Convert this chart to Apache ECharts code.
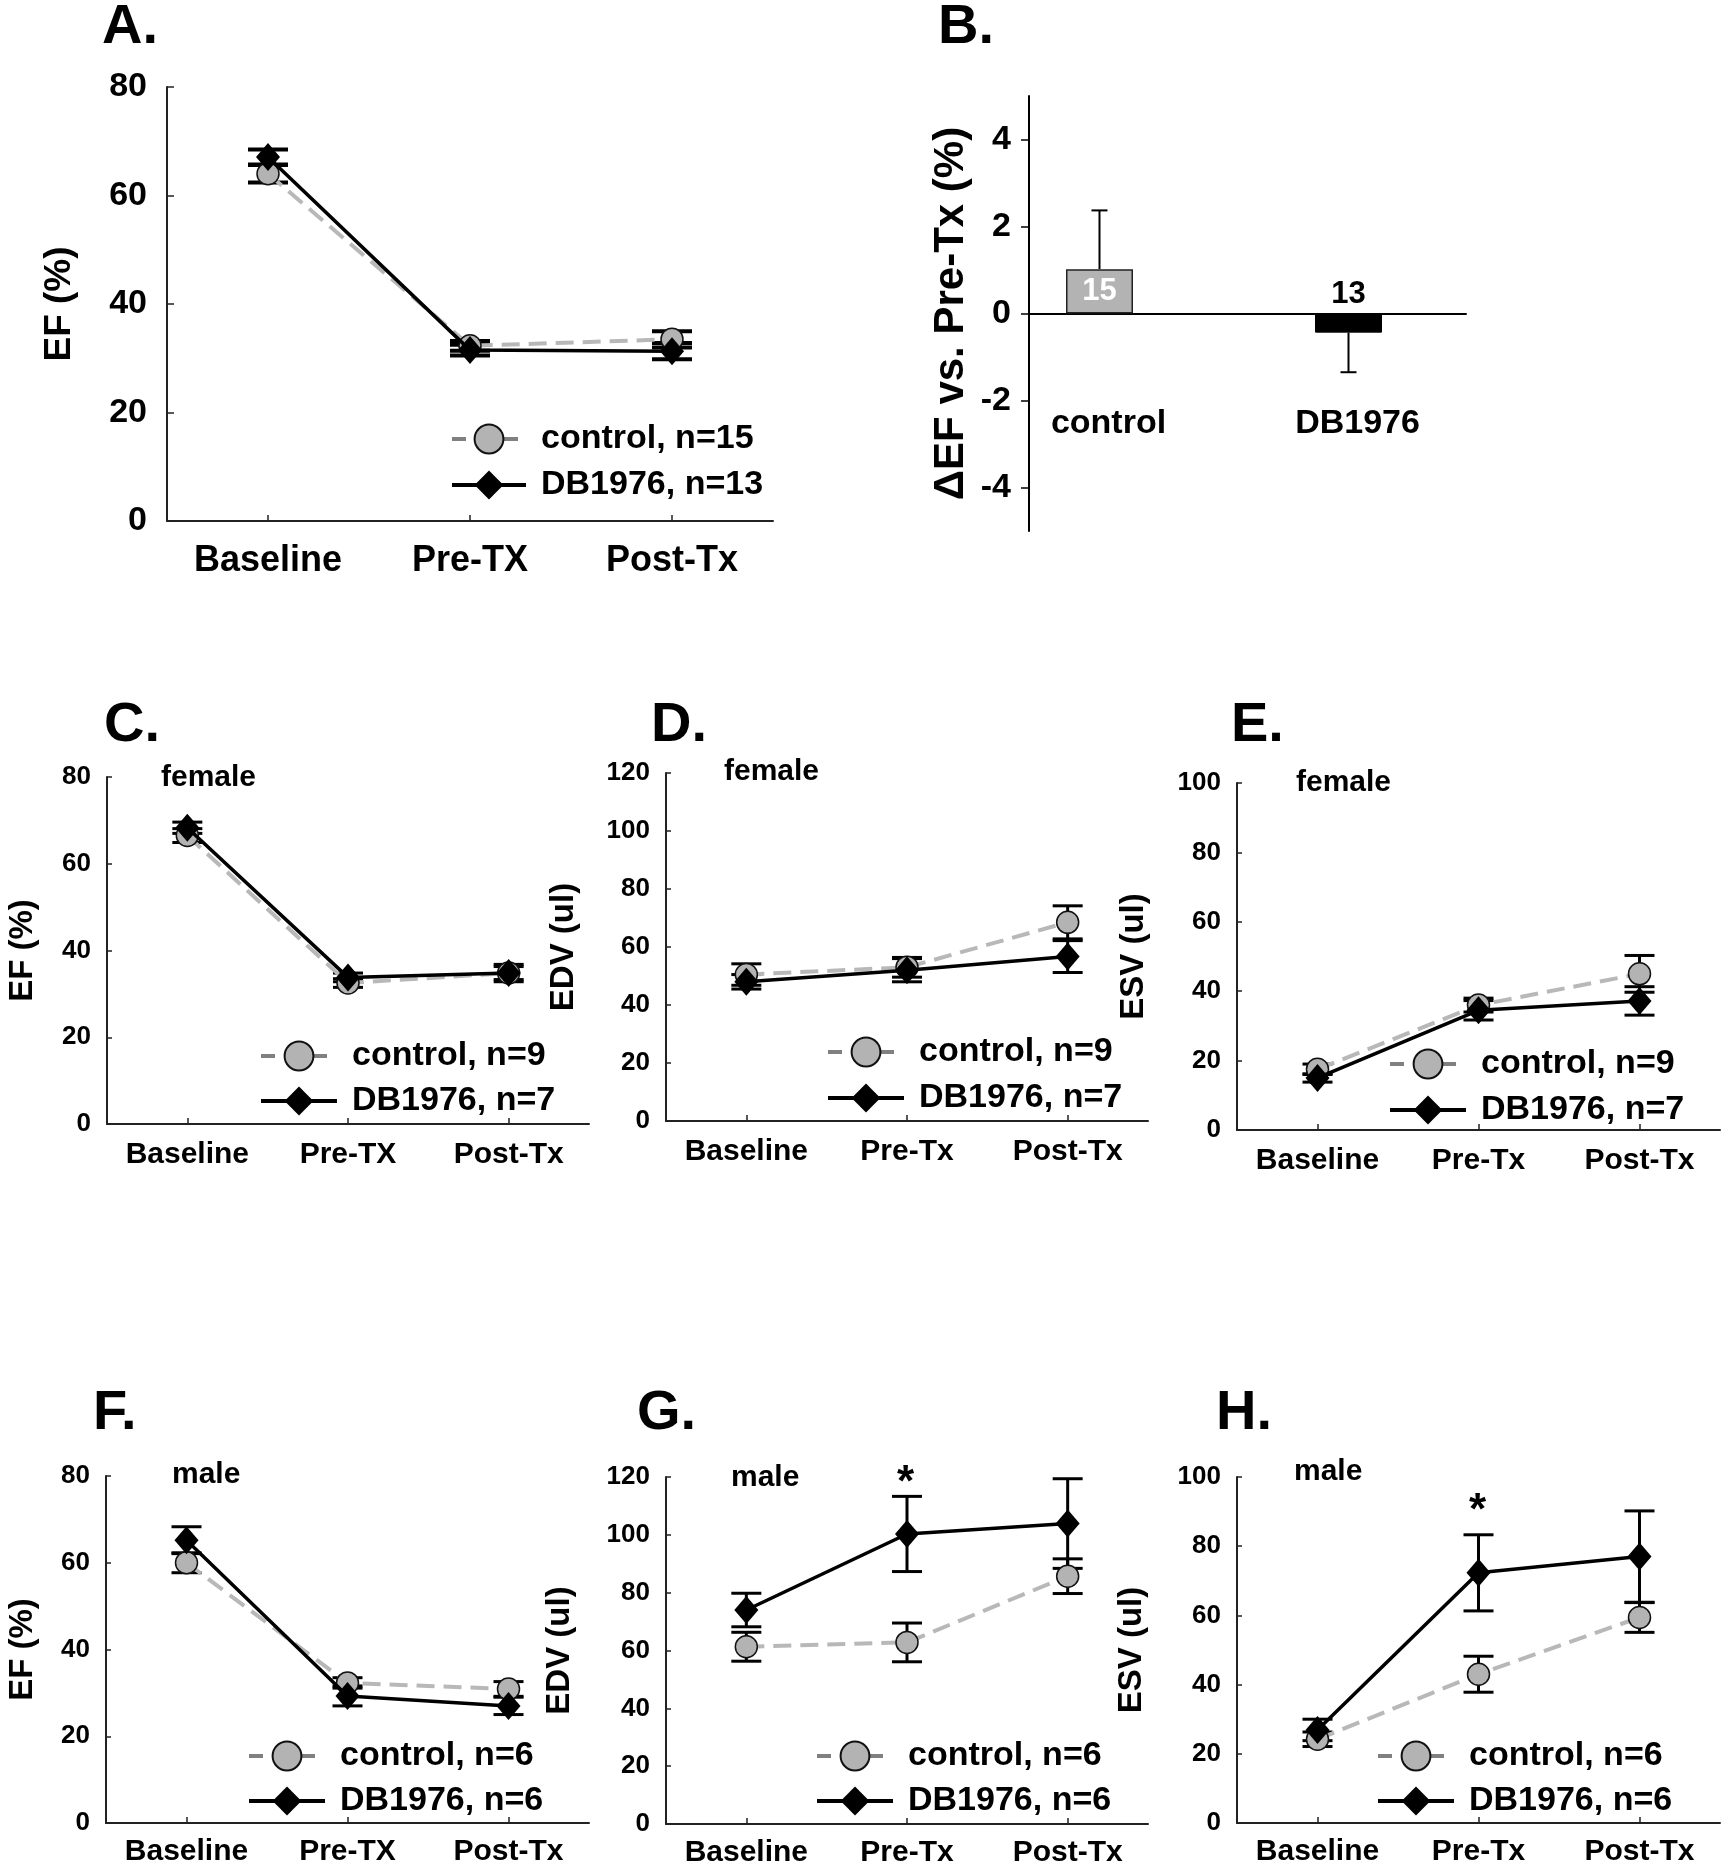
<!DOCTYPE html>
<html><head><meta charset="utf-8">
<script src="https://cdn.jsdelivr.net/npm/echarts@6/dist/echarts.min.js"></script>
<style>html,body{margin:0;padding:0;background:#fff}#c{width:1723px;height:1873px}</style>
</head><body><div id="c"></div>
<script>
const FONT = '"Liberation Sans", Arial, Helvetica, sans-serif';

// ---------- categories ----------
const timepointsEF = ['Baseline', 'Pre-TX', 'Post-Tx'];
const timepointsVol = ['Baseline', 'Pre-Tx', 'Post-Tx'];
const groupsB = ['control', 'DB1976'];

// ---------- A: EF all ----------
const efAllCtrl = [64.0, 32.3, 33.5];
const efAllCtrlErr = [1.6, 0.9, 1.5];
const efAllDB = [67.1, 31.5, 31.3];
const efAllDBErr = [1.4, 1.0, 1.5];

// ---------- B: delta EF ----------
const deltaEF = [1.02, -0.44];
const deltaEFErr = [1.35, 0.91];
const deltaN = [15, 13];
const deltaTicks = [-4, -2, 0, 2, 4];

// ---------- C: EF female ----------
const efFemCtrl = [66.5, 32.5, 34.8];
const efFemCtrlErr = [1.6, 1.0, 2.0];
const efFemDB = [68.3, 33.8, 34.8];
const efFemDBErr = [1.3, 1.0, 1.5];

// ---------- D: EDV female ----------
const edvFemCtrl = [50.5, 53.0, 68.5];
const edvFemCtrlErr = [3.7, 3.4, 5.7];
const edvFemDB = [48.0, 52.0, 56.7];
const edvFemDBErr = [2.5, 4.0, 5.5];

// ---------- E: ESV female ----------
const esvFemCtrl = [17.5, 36.0, 45.0];
const esvFemCtrlErr = [1.5, 2.0, 5.3];
const esvFemDB = [15.0, 34.5, 37.2];
const esvFemDBErr = [1.2, 2.8, 4.1];

// ---------- F: EF male ----------
const efMaleCtrl = [60.0, 32.3, 30.9];
const efMaleCtrlErr = [2.3, 1.2, 1.7];
const efMaleDB = [65.2, 29.3, 27.0];
const efMaleDBErr = [3.1, 2.3, 2.0];

// ---------- G: EDV male ----------
const edvMaleCtrl = [61.3, 62.8, 85.7];
const edvMaleCtrlErr = [5.0, 6.7, 6.0];
const edvMaleDB = [74.0, 100.3, 103.9];
const edvMaleDBErr = [5.8, 13.0, 15.5];

// ---------- H: ESV male ----------
const esvMaleCtrl = [24.2, 43.0, 59.4];
const esvMaleCtrlErr = [2.1, 5.2, 4.3];
const esvMaleDB = [26.9, 72.3, 77.0];
const esvMaleDBErr = [3.1, 11.0, 13.2];

// ---------- legend names ----------
const namesAll = ['control, n=15', 'DB1976, n=13'];
const namesFem = ['control, n=9', 'DB1976, n=7'];
const namesMale = ['control, n=6', 'DB1976, n=6'];

// ---------- layout / style config ----------
const panels = [
  {cats: timepointsEF, ctrl: efAllCtrl, ctrlErr: efAllCtrlErr, db: efAllDB, dbErr: efAllDBErr, names: namesAll,
   grid: {left: 167, top: 87, width: 606, height: 434}, yMax: 80, yName: 'EF (%)', nameFont: 37, nameGap: 89,
   tickFont: 34, tickMargin: 20, tickLen: 7, catFont: 36, catMargin: 22,
   legend: {left: 450, top: 422, itemWidth: 74, gap: 12, font: 34}, capW: 40, errLW: 4},
  {cats: timepointsEF, ctrl: efFemCtrl, ctrlErr: efFemCtrlErr, db: efFemDB, dbErr: efFemDBErr, names: namesFem,
   grid: {left: 107, top: 777, width: 482, height: 347}, yMax: 80, yName: 'EF (%)', nameFont: 33, nameGap: 68,
   tickFont: 26, tickMargin: 16, tickLen: 5, catFont: 30, catMargin: 16,
   legend: {left: 259, top: 1039, itemWidth: 76, gap: 11, font: 34}, capW: 30, errLW: 3},
  {cats: timepointsVol, ctrl: edvFemCtrl, ctrlErr: edvFemCtrlErr, db: edvFemDB, dbErr: edvFemDBErr, names: namesFem,
   grid: {left: 666, top: 773, width: 482, height: 348}, yMax: 120, yName: 'EDV (ul)', nameFont: 33, nameGap: 86,
   tickFont: 26, tickMargin: 16, tickLen: 5, catFont: 30, catMargin: 16,
   legend: {left: 826, top: 1035, itemWidth: 76, gap: 12, font: 34}, capW: 30, errLW: 3},
  {cats: timepointsVol, ctrl: esvFemCtrl, ctrlErr: esvFemCtrlErr, db: esvFemDB, dbErr: esvFemDBErr, names: namesFem,
   grid: {left: 1237, top: 783, width: 483, height: 347}, yMax: 100, yName: 'ESV (ul)', nameFont: 33, nameGap: 87,
   tickFont: 26, tickMargin: 16, tickLen: 5, catFont: 30, catMargin: 16,
   legend: {left: 1388, top: 1047, itemWidth: 76, gap: 12, font: 34}, capW: 30, errLW: 3},
  {cats: timepointsEF, ctrl: efMaleCtrl, ctrlErr: efMaleCtrlErr, db: efMaleDB, dbErr: efMaleDBErr, names: namesMale,
   grid: {left: 106, top: 1476, width: 483, height: 347}, yMax: 80, yName: 'EF (%)', nameFont: 33, nameGap: 67,
   tickFont: 26, tickMargin: 16, tickLen: 5, catFont: 30, catMargin: 14,
   legend: {left: 247, top: 1739, itemWidth: 76, gap: 11, font: 34}, capW: 30, errLW: 3},
  {cats: timepointsVol, ctrl: edvMaleCtrl, ctrlErr: edvMaleCtrlErr, db: edvMaleDB, dbErr: edvMaleDBErr, names: namesMale,
   grid: {left: 666, top: 1477, width: 482, height: 347}, yMax: 120, yName: 'EDV (ul)', nameFont: 33, nameGap: 90,
   tickFont: 26, tickMargin: 16, tickLen: 5, catFont: 30, catMargin: 14,
   legend: {left: 815, top: 1739, itemWidth: 76, gap: 11, font: 34}, capW: 30, errLW: 3},
  {cats: timepointsVol, ctrl: esvMaleCtrl, ctrlErr: esvMaleCtrlErr, db: esvMaleDB, dbErr: esvMaleDBErr, names: namesMale,
   grid: {left: 1237, top: 1477, width: 483, height: 346}, yMax: 100, yName: 'ESV (ul)', nameFont: 33, nameGap: 89,
   tickFont: 26, tickMargin: 16, tickLen: 5, catFont: 30, catMargin: 14,
   legend: {left: 1376, top: 1739, itemWidth: 76, gap: 11, font: 34}, capW: 30, errLW: 3}
];

const AXIS_COLOR = '#222';
const CTRL_FILL = '#b3b3b3';
const CTRL_LINE = '#b8b8b8';

function errRender(capW, lw, oneSided) {
  return function (params, api) {
    const i = api.value(0), v = api.value(1), e = api.value(2);
    let a, b;
    if (oneSided) { a = v; b = v + (v >= 0 ? e : -e); } else { a = v - e; b = v + e; }
    const p1 = api.coord([i, a]), p2 = api.coord([i, b]);
    const st = {stroke: '#000', lineWidth: lw};
    const children = [
      {type: 'line', shape: {x1: p1[0], y1: p1[1], x2: p2[0], y2: p2[1]}, style: st},
      {type: 'line', shape: {x1: p2[0] - capW / 2, y1: p2[1], x2: p2[0] + capW / 2, y2: p2[1]}, style: st}
    ];
    if (!oneSided) children.push({type: 'line', shape: {x1: p1[0] - capW / 2, y1: p1[1], x2: p1[0] + capW / 2, y2: p1[1]}, style: st});
    return {type: 'group', children};
  };
}

const grids = [], xAxes = [], yAxes = [], series = [], legends = [];

function addLinePanel(p) {
  const gi = grids.length;
  grids.push(Object.assign({}, p.grid));
  xAxes.push({
    type: 'category', gridIndex: gi, data: p.cats, boundaryGap: true,
    axisLine: {lineStyle: {color: AXIS_COLOR, width: 2}},
    axisTick: {show: true, inside: true, alignWithLabel: true, length: 6, lineStyle: {color: AXIS_COLOR, width: 1.5}},
    axisLabel: {fontFamily: FONT, fontWeight: 'bold', fontSize: p.catFont, color: '#000', margin: p.catMargin},
    splitLine: {show: false}
  });
  yAxes.push({
    type: 'value', gridIndex: gi, min: 0, max: p.yMax, interval: 20,
    name: p.yName, nameLocation: 'middle', nameGap: p.nameGap,
    nameTextStyle: {fontFamily: FONT, fontWeight: 'bold', fontSize: p.nameFont, color: '#000'},
    axisLine: {show: true, lineStyle: {color: AXIS_COLOR, width: 2}},
    axisTick: {show: true, inside: true, length: p.tickLen, lineStyle: {color: AXIS_COLOR, width: 1.5}},
    axisLabel: {fontFamily: FONT, fontWeight: 'bold', fontSize: p.tickFont, color: '#000', margin: p.tickMargin},
    splitLine: {show: false}
  });
  const ai = xAxes.length - 1;
  series.push({
    type: 'custom', name: p.names[0] + ' err', xAxisIndex: ai, yAxisIndex: ai, z: 1,
    encode: {x: 0, y: 1}, data: p.ctrl.map((v, i) => [i, v, p.ctrlErr[i]]),
    renderItem: errRender(p.capW, p.errLW, false), silent: true
  });
  series.push({
    type: 'custom', name: p.names[1] + ' err', xAxisIndex: ai, yAxisIndex: ai, z: 1,
    encode: {x: 0, y: 1}, data: p.db.map((v, i) => [i, v, p.dbErr[i]]),
    renderItem: errRender(p.capW, p.errLW, false), silent: true
  });
  series.push({
    type: 'line', name: p.names[0], xAxisIndex: ai, yAxisIndex: ai, z: 2,
    data: p.ctrl, symbol: 'circle', symbolSize: 22, showAllSymbol: true,
    lineStyle: {color: CTRL_LINE, width: 4, type: [18, 9]},
    itemStyle: {color: CTRL_FILL, borderColor: '#111', borderWidth: 1.5}
  });
  series.push({
    type: 'line', name: p.names[1], xAxisIndex: ai, yAxisIndex: ai, z: 3,
    data: p.db, symbol: 'diamond', symbolSize: [24, 28], showAllSymbol: true,
    lineStyle: {color: '#000', width: 3.5},
    itemStyle: {color: '#000', borderColor: '#000', borderWidth: 0}
  });
  legends.push({
    data: [
      {name: p.names[0], lineStyle: {color: '#808080', width: 4, type: [14, 12]}},
      {name: p.names[1], lineStyle: {color: '#000', width: 4}}
    ],
    orient: 'vertical', left: p.legend.left, top: p.legend.top, padding: 0,
    itemWidth: p.legend.itemWidth, itemHeight: 36, itemGap: p.legend.gap, selectedMode: false,
    textStyle: {fontFamily: FONT, fontWeight: 'bold', fontSize: p.legend.font, color: '#000', padding: [0, 0, 0, 10]}
  });
}

// Panel A
addLinePanel(panels[0]);

// Panel B: visible axes grid
{
  const gi = grids.length;
  grids.push({left: 1029, top: 96, width: 437, height: 435});
  xAxes.push({
    type: 'category', gridIndex: gi, data: groupsB,
    axisLine: {onZero: true, lineStyle: {color: '#000', width: 2}},
    axisTick: {show: false}, axisLabel: {show: false}, splitLine: {show: false}
  });
  yAxes.push({
    type: 'value', gridIndex: gi, min: -5, max: 5,
    name: 'ΔEF vs. Pre-Tx (%)', nameLocation: 'middle', nameGap: 57,
    nameTextStyle: {fontFamily: FONT, fontWeight: 'bold', fontSize: 42, color: '#000'},
    axisLine: {show: true, lineStyle: {color: '#000', width: 2}},
    axisTick: {show: true, inside: false, length: 8, customValues: deltaTicks, lineStyle: {color: '#000', width: 1.5}},
    axisLabel: {customValues: deltaTicks, fontFamily: FONT, fontWeight: 'bold', fontSize: 34, color: '#000', margin: 18},
    splitLine: {show: false}
  });
  // bars grid (wider band so bar centres match the reference)
  const gb = grids.length;
  grids.push({left: 975, top: 96, width: 498, height: 435});
  xAxes.push({
    type: 'category', gridIndex: gb, data: groupsB, position: 'bottom',
    axisLine: {show: false, onZero: false},
    axisTick: {show: false},
    axisLabel: {fontFamily: FONT, fontWeight: 'bold', fontSize: 34, color: '#000', margin: -124, padding: [0, 0, 0, 18]},
    splitLine: {show: false}
  });
  yAxes.push({type: 'value', gridIndex: gb, min: -5, max: 5, show: false, splitLine: {show: false}});
  const bi = xAxes.length - 1;
  series.push({
    type: 'bar', name: 'delta', xAxisIndex: bi, yAxisIndex: bi, barWidth: 67, z: 2,
    data: deltaEF.map((v, i) => ({
      value: v,
      itemStyle: v >= 0 ? {color: CTRL_FILL, borderColor: '#222', borderWidth: 1.5} : {color: '#000', borderColor: '#000', borderWidth: 1},
      label: {position: v >= 0 ? 'inside' : 'top', color: v >= 0 ? '#fff' : '#000', distance: 4}
    })),
    label: {show: true, fontFamily: FONT, fontWeight: 'bold', fontSize: 31,
      formatter: (pp) => String(deltaN[pp.dataIndex])}
  });
  series.push({
    type: 'custom', name: 'delta err', xAxisIndex: bi, yAxisIndex: bi, z: 1,
    encode: {x: 0, y: 1}, data: deltaEF.map((v, i) => [i, v, deltaEFErr[i]]),
    renderItem: errRender(16, 2, true), silent: true
  });
}

for (let k = 1; k < panels.length; k++) addLinePanel(panels[k]);

function t(text, left, top, size) {
  return {text, left, top, padding: 0, textStyle: {fontFamily: FONT, fontWeight: 'bold', fontSize: size, color: '#000'}};
}
const titles = [
  t('A.', 102, 0, 56), t('B.', 938, 0, 56),
  t('C.', 104, 698, 56), t('D.', 651, 698, 56), t('E.', 1231, 698, 56),
  t('F.', 93, 1386, 56), t('G.', 637, 1386, 56), t('H.', 1216, 1386, 56),
  t('female', 161, 763, 30), t('female', 724, 757, 30), t('female', 1296, 768, 30),
  t('male', 172, 1460, 30), t('male', 731, 1463, 30), t('male', 1294, 1457, 30),
  t('*', 897, 1462, 44), t('*', 1469, 1490, 44)
];

const chart = echarts.init(document.getElementById('c'), null, {renderer: 'canvas'});
chart.setOption({
  animation: false,
  backgroundColor: '#fff',
  title: titles,
  legend: legends,
  grid: grids,
  xAxis: xAxes,
  yAxis: yAxes,
  series: series
});
</script>
</body></html>
